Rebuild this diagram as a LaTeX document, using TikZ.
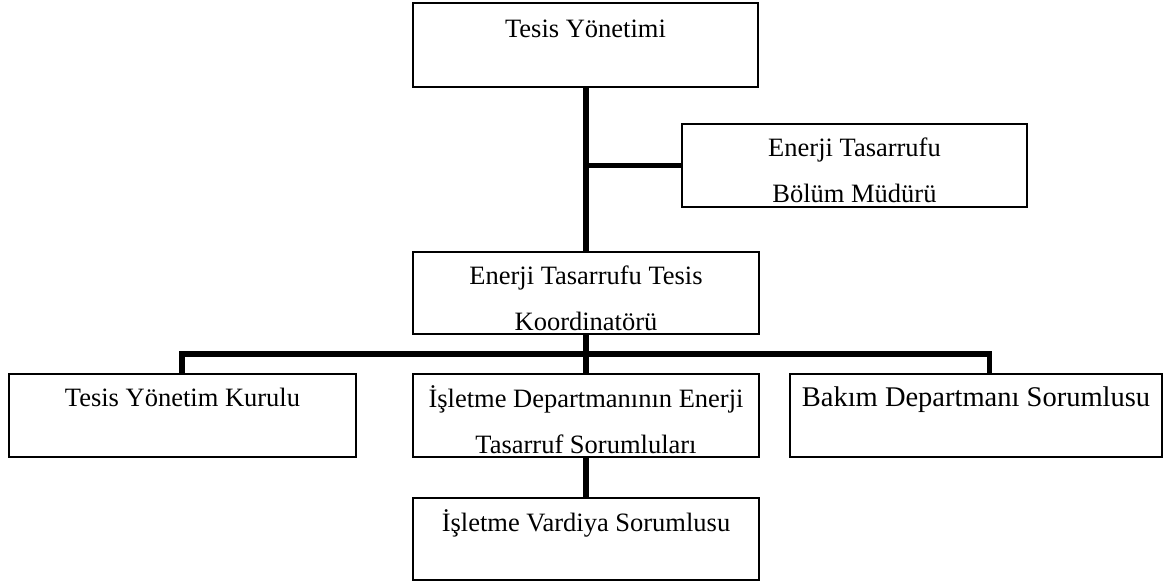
\documentclass[tikz,border=0pt]{standalone}
\usepackage{fontspec}
\setmainfont{Liberation Serif}
\begin{document}
\begin{tikzpicture}[x=1pt,y=-1pt,
  orgbox/.style={draw=black, line width=1.3pt, rectangle, inner sep=0pt},
  orgtext/.style={inner sep=0pt, anchor=base,
    font=\fontsize{26.5pt}{46pt}\selectfont},
  link/.style={draw=black, line width=5.5pt, line join=miter}]
  \useasboundingbox (0,0) rectangle (1167,586);

  % boxes of the chart
  \node[orgbox, minimum width=345pt, minimum height=84pt] (top)    at (585.5,45)    {};
  \node[orgbox, minimum width=345pt, minimum height=83pt] (mgr)    at (854.5,165.5) {};
  \node[orgbox, minimum width=346pt, minimum height=82pt] (coord)  at (586,293)     {};
  \node[orgbox, minimum width=347pt, minimum height=83pt] (board)  at (182.5,415.5) {};
  \node[orgbox, minimum width=346pt, minimum height=83pt] (ops)    at (586,415.5)   {};
  \node[orgbox, minimum width=372pt, minimum height=83pt] (maint)  at (976,415.5)   {};
  \node[orgbox, minimum width=346pt, minimum height=82pt] (shift)  at (586,539)     {};

  % labels, first baseline about 34pt below each box top
  \node[orgtext] (top-t)   at ([yshift=-35pt]top.north)   {Tesis Yönetimi};
  \node[orgtext] (mgr-t)   at ([yshift=-33pt]mgr.north)
    {\begin{tabular}[t]{@{}c@{}}Enerji Tasarrufu\\Bölüm Müdürü\end{tabular}};
  \node[orgtext] (coord-t) at ([yshift=-33pt]coord.north)
    {\begin{tabular}[t]{@{}c@{}}Enerji Tasarrufu Tesis\\Koordinatörü\end{tabular}};
  \node[orgtext] (board-t) at ([yshift=-33pt]board.north) {Tesis Yönetim Kurulu};
  \node[orgtext] (ops-t)   at ([yshift=-34pt]ops.north)
    {\begin{tabular}[t]{@{}c@{}}İşletme Departmanının Enerji\\Tasarruf Sorumluları\end{tabular}};
  \node[orgtext, font=\fontsize{28.5pt}{46pt}\selectfont] (maint-t)
    at ([yshift=-33pt]maint.north) {Bakım Departmanı Sorumlusu};
  \node[orgtext] (shift-t) at ([yshift=-34pt]shift.north) {İşletme Vardiya Sorumlusu};

  % trunk and bus coordinates
  \coordinate (trunk) at (586,0);
  \coordinate (busL)  at (182,354);
  \coordinate (busR)  at (989.5,354);

  % connectors
  \draw[link] (trunk |- top.south) -- (trunk |- coord.north);
  \draw[link] (trunk |- mgr.west) -- (mgr.west);
  \draw[link] (trunk |- coord.south) -- (ops.north);
  \draw[link] (busL |- board.north) -- (busL) -- (busR) -- (busR |- maint.north);
  \draw[link] (ops.south) -- (shift.north);
\end{tikzpicture}
\end{document}
